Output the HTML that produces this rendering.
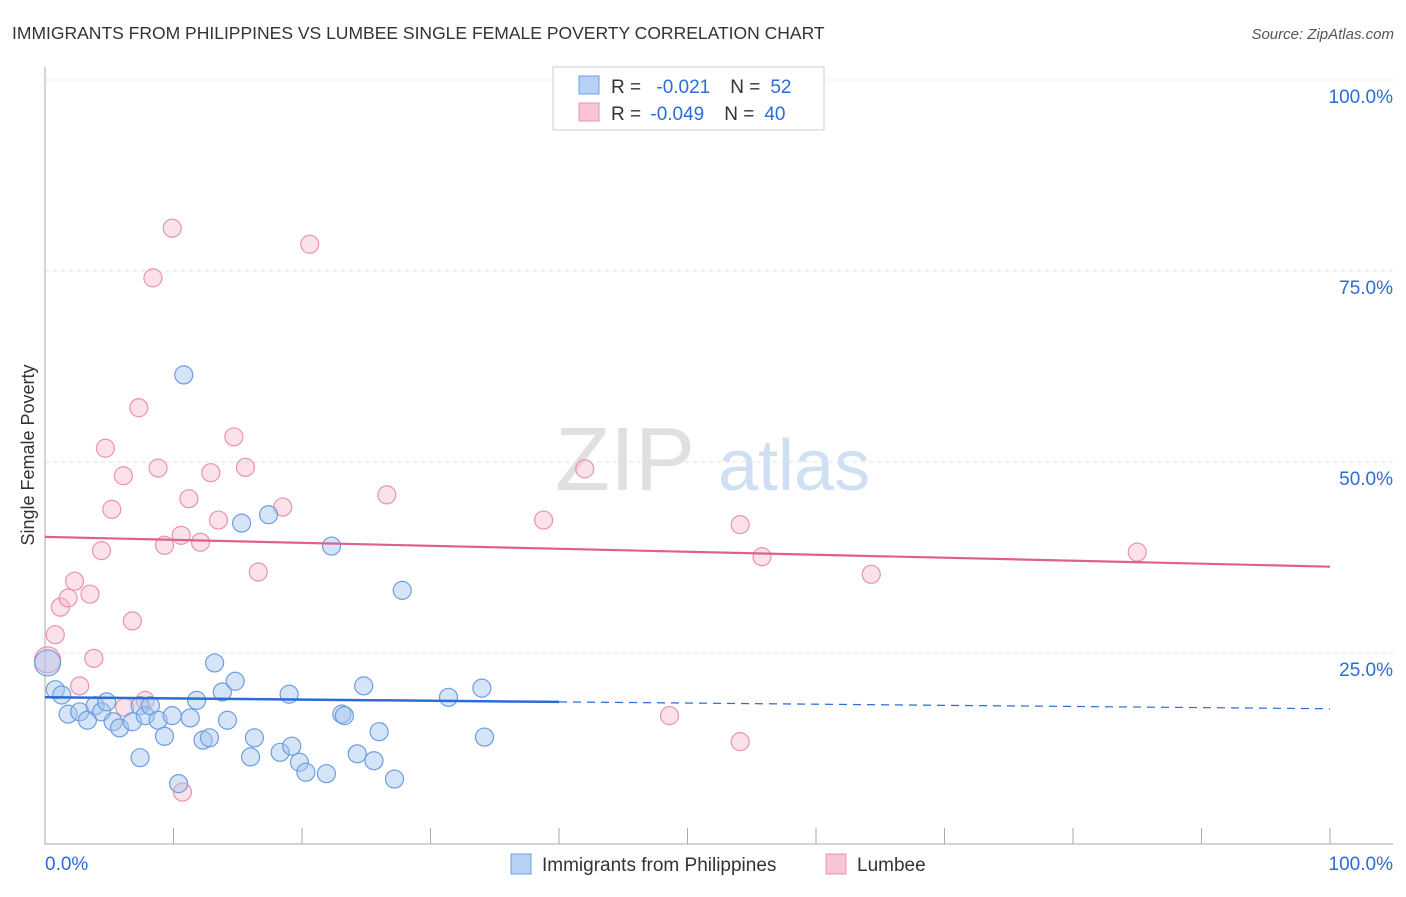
<!DOCTYPE html>
<html><head><meta charset="utf-8"><style>
body{margin:0;background:#fff;font-family:"Liberation Sans",sans-serif;}
svg text{font-family:"Liberation Sans",sans-serif;}
</style></head><body>
<svg id="c" width="1406" height="892">
<text x="12" y="39" font-size="17.5" fill="#333">IMMIGRANTS FROM PHILIPPINES VS LUMBEE SINGLE FEMALE POVERTY CORRELATION CHART</text>
<text x="1394" y="39" font-size="15" fill="#555" text-anchor="end" font-style="italic">Source: ZipAtlas.com</text>
<text x="555" y="490" font-size="90" fill="#e0e0e0" font-family="Liberation Serif">ZIP</text>
<text x="718" y="490" font-size="72" fill="#cfe0f5">atlas</text>
<g id="grid"></g><g id="marks"></g>
<text transform="translate(34,455) rotate(-90)" font-size="18" fill="#333" text-anchor="middle">Single Female Poverty</text>
<g>
<rect x="553" y="67" width="271" height="63" fill="#fff" stroke="#ccc"/>
<rect x="579" y="76" width="20" height="18" fill="#b7d1f5" stroke="#6d9de0"/>
<rect x="579" y="103" width="20" height="18" fill="#f8c5d5" stroke="#eb93ad"/>
<text x="611" y="93" font-size="19" fill="#333">R = <tspan fill="#2a6dd6" dx="10">-0.021</tspan><tspan fill="#333" dx="20">N =</tspan><tspan fill="#2a6dd6" dx="10">52</tspan></text>
<text x="611" y="120" font-size="19" fill="#333">R = <tspan fill="#2a6dd6" dx="4">-0.049</tspan><tspan fill="#333" dx="20">N =</tspan><tspan fill="#2a6dd6" dx="10">40</tspan></text>
</g>
<g>
<rect x="511" y="854" width="20" height="20" fill="#b7d1f5" stroke="#6d9de0"/>
<text x="542" y="871" font-size="19" fill="#333">Immigrants from Philippines</text>
<rect x="826" y="854" width="20" height="20" fill="#f8c5d5" stroke="#eb93ad"/>
<text x="857" y="871" font-size="19" fill="#333">Lumbee</text>
</g>
</svg>
<script>
const yTicks=[100,75,50,25];
const yTickLabels=["100.0%","75.0%","50.0%","25.0%"];
const xTickLabels=["0.0%","100.0%"];
const blueX=[0.2,0.8,1.3,1.8,2.7,3.3,3.9,4.4,4.8,5.3,5.8,6.8,7.4,7.8,8.2,8.8,9.3,7.4,9.9,10.4,10.8,11.3,11.8,12.3,12.8,13.2,13.8,14.2,14.8,15.3,16.0,16.3,17.4,18.3,19.0,19.2,19.8,20.3,21.9,22.3,23.1,23.3,24.3,24.8,25.6,26.0,27.2,27.8,31.4,34.0,34.2];
const blueY=[23.7,20.2,19.5,17.0,17.3,16.2,18.1,17.3,18.6,16.0,15.2,16.0,18.1,16.8,18.1,16.2,14.1,11.3,16.8,7.9,61.4,16.5,18.8,13.6,13.9,23.7,19.9,16.2,21.3,42.0,11.4,13.9,43.1,12.0,19.6,12.8,10.7,9.4,9.2,39.0,17.0,16.8,11.8,20.7,10.9,14.7,8.5,33.2,19.2,20.4,14.0];
const pinkX=[0.2,0.8,1.2,1.8,2.3,2.7,3.5,3.8,4.4,4.7,5.2,6.1,6.2,6.8,7.3,7.8,8.4,8.8,9.3,9.9,10.7,10.6,11.2,12.1,12.9,13.5,14.7,15.6,16.6,18.5,20.6,26.6,38.8,42.0,48.6,54.1,54.1,55.8,64.3,85.0];
const pinkY=[24.1,27.4,31.0,32.2,34.4,20.7,32.7,24.3,38.4,51.8,43.8,48.2,17.9,29.2,57.1,18.8,74.1,49.2,39.1,80.6,6.8,40.4,45.2,39.5,48.6,42.4,53.3,49.3,35.6,44.1,78.5,45.7,42.4,49.1,16.8,41.8,13.4,37.6,35.3,38.2];
const blueTrend=[19.2,17.7];
const pinkTrend=[40.2,36.3];
const NS="http://www.w3.org/2000/svg";
const X=v=>45+v*12.85, Y=v=>844-v*7.64;
const grid=document.getElementById('grid'), marks=document.getElementById('marks');
function mk(p,tag,a){const e=document.createElementNS(NS,tag);for(const k in a)e.setAttribute(k,a[k]);p.appendChild(e);return e;}
yTicks.forEach((t,i)=>{
 const l=mk(grid,'line',{x1:45,x2:1393,y1:Y(t),y2:Y(t),stroke:'#e2e2e2','stroke-dasharray':'4,4'});
 
 
 const tx=mk(grid,'text',{x:1393,y:Y(t)+23,'font-size':19,fill:'#2a6dd6','text-anchor':'end'});tx.textContent=yTickLabels[i];
 
 
});
const ax=mk(grid,'path',{d:'M45 67V844H1393',stroke:'#aaa',fill:'none'});


for(let i=1;i<=10;i++){const t=mk(grid,'line',{x1:X(i*10),x2:X(i*10),y1:828,y2:844,stroke:'#aaa'});
 
 }
[[0,'start'],[100,'end']].forEach((d,i)=>{const t=mk(grid,'text',{x:i?1393:45,y:870,'font-size':19,fill:'#2a6dd6','text-anchor':d[1]});t.textContent=xTickLabels[i];
 
 });
function dots(xs,ys,fill,stroke,name){xs.forEach((x,i)=>{const c=mk(marks,'circle',{cx:X(x),cy:Y(ys[i]),r:i==0?13:9,fill:fill,stroke:stroke,'stroke-width':1.2});
 
 });}
dots(pinkX,pinkY,'rgba(246,180,200,0.4)','#eb93ad','lumbee-point');
dots(blueX,blueY,'rgba(164,196,240,0.45)','#6d9de0','philippines-point');
const bAt=x=>blueTrend[0]+(blueTrend[1]-blueTrend[0])*x/100;
let l=mk(marks,'line',{x1:X(0),y1:Y(bAt(0)),x2:X(40),y2:Y(bAt(40)),stroke:'#2a6dd6','stroke-width':2.5});


l=mk(marks,'line',{x1:X(40),y1:Y(bAt(40)),x2:X(100),y2:Y(bAt(100)),stroke:'#2a6dd6','stroke-width':1.2,'stroke-dasharray':'8,6'});


l=mk(marks,'line',{x1:X(0),y1:Y(pinkTrend[0]),x2:X(100),y2:Y(pinkTrend[1]),stroke:'#e0608a','stroke-width':2.2});


</script>
</body></html>
